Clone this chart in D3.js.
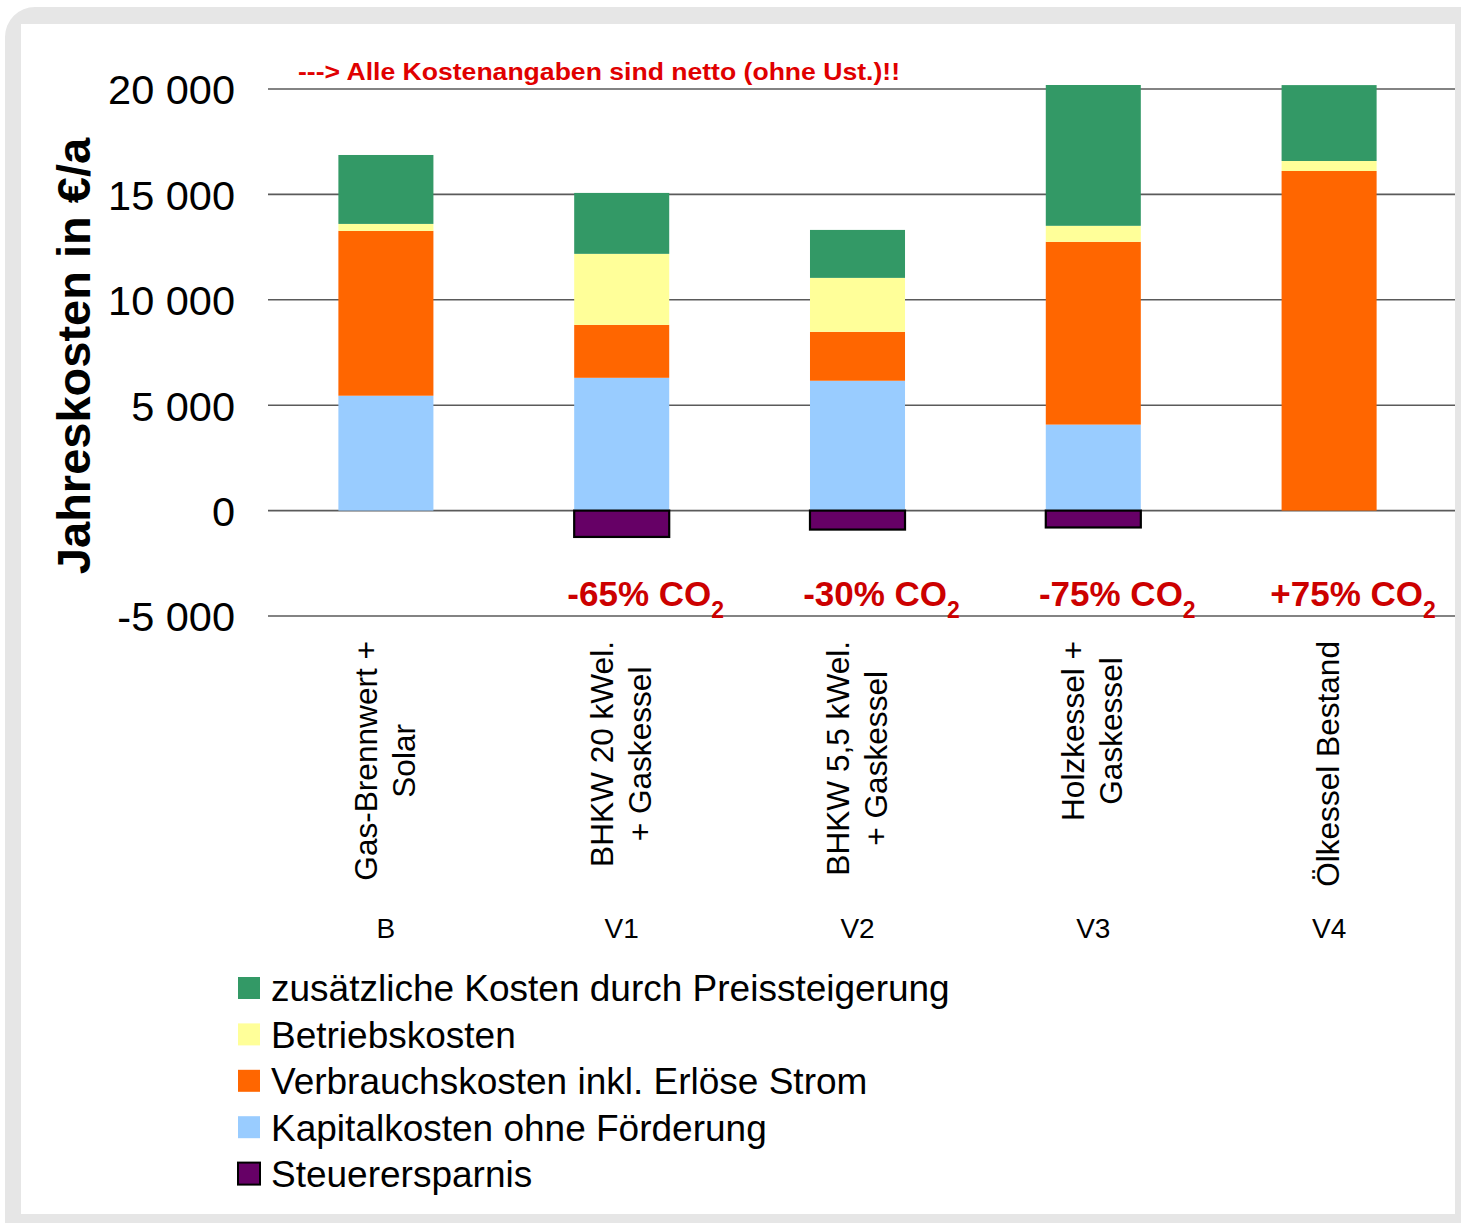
<!DOCTYPE html>
<html>
<head>
<meta charset="utf-8">
<script src="https://cdn.jsdelivr.net/npm/d3@7"></script>
<style>
  html, body { margin: 0; padding: 0; background: #ffffff; }
  svg { display: block; font-family: "Liberation Sans", Arial, sans-serif; }
</style>
</head>
<body>
<svg id="chart" width="1461" height="1223"></svg>
<script>
// Variants and their descriptions
const categories = ["B", "V1", "V2", "V3", "V4"];
const descriptions = [
  ["Gas-Brennwert +", "Solar"],
  ["BHKW 20 kWel.", "+ Gaskessel"],
  ["BHKW 5,5 kWel.", "+ Gaskessel"],
  ["Holzkessel +", "Gaskessel"],
  ["Ölkessel Bestand"]
];

// Annual cost components in €/a
const kapitalkosten   = [5450, 6300, 6160, 4080, 0];
const verbrauchskosten = [7820, 2510, 2320, 8670, 16110];
const betriebskosten  = [330, 3370, 2560, 760, 475];
const preissteigerung = [3270, 2890, 2275, 6680, 3600];
const steuerersparnis = [0, -1250, -900, -800, 0];

// CO2 change relative to the base variant
const co2Changes = ["", "-65%", "-30%", "-75%", "+75%"];

// Y axis ticks
const yTicks = [-5000, 0, 5000, 10000, 15000, 20000];

const series = [
  { key: "kapital",   label: "Kapitalkosten ohne Förderung",          color: "#99CCFF", values: kapitalkosten },
  { key: "verbrauch", label: "Verbrauchskosten inkl. Erlöse Strom",   color: "#FF6600", values: verbrauchskosten },
  { key: "betrieb",   label: "Betriebskosten",                        color: "#FFFF99", values: betriebskosten },
  { key: "preis",     label: "zusätzliche Kosten durch Preissteigerung", color: "#339966", values: preissteigerung },
  { key: "steuer",    label: "Steuerersparnis",                       color: "#660066", values: steuerersparnis, outlined: true }
];
const legendOrder = ["preis", "betrieb", "verbrauch", "kapital", "steuer"];

const rows = categories.map((c, i) => {
  const r = { cat: c };
  series.forEach(s => { r[s.key] = s.values[i]; });
  return r;
});

const svg = d3.select("#chart");

// Frame: grey rounded border with white panel
svg.append("rect").attr("x", 5).attr("y", 7).attr("width", 1500).attr("height", 1260)
  .attr("rx", 30).attr("fill", "#e6e6e6");
svg.append("rect").attr("x", 21).attr("y", 24).attr("width", 1434).attr("height", 1190)
  .attr("fill", "#ffffff");

const x = d3.scaleBand().domain(categories).range([268, 1447])
  .paddingInner(0.597).paddingOuter(0.2985);
const y = d3.scaleLinear().domain([-5000, 20000]).range([616, 89]);

// Gridlines
const grid = svg.append("g");
grid.selectAll("line").data(yTicks).join("line")
  .attr("x1", 268).attr("x2", 1455)
  .attr("y1", d => y(d)).attr("y2", d => y(d))
  .attr("stroke", "#5a5a5a").attr("stroke-width", 1.6);

// Y axis labels
const yAxis = d3.axisLeft(y).tickValues(yTicks).tickSize(0).tickPadding(0)
  .tickFormat(d => d3.format(",")(d).replace(/,/g, " ").replace("−", "-"));
const yg = svg.append("g").attr("transform", "translate(235,0)").call(yAxis);
yg.select(".domain").remove();
yg.selectAll("text").attr("font-size", 41.5).attr("fill", "#000")
  .attr("font-family", "'Liberation Sans', Arial, sans-serif").attr("dy", "0.36em");

// Y title
svg.append("text")
  .attr("transform", "translate(90,356) rotate(-90)")
  .attr("text-anchor", "middle")
  .attr("font-size", 47).attr("font-weight", "bold").attr("fill", "#000")
  .text("Jahreskosten in €/a");

// Stacked bars
const stack = d3.stack().keys(series.map(s => s.key)).offset(d3.stackOffsetDiverging);
const stacked = stack(rows);
const bars = svg.append("g");
stacked.forEach((layer, li) => {
  const s = series[li];
  bars.append("g").selectAll("rect").data(layer.filter(d => d[1] !== d[0])).join("rect")
    .attr("x", d => x(d.data.cat))
    .attr("width", x.bandwidth())
    .attr("y", d => y(Math.max(d[0], d[1])))
    .attr("height", d => Math.abs(y(d[0]) - y(d[1])))
    .attr("fill", s.color)
    .attr("stroke", s.outlined ? "#000" : "none")
    .attr("stroke-width", s.outlined ? 2.2 : 0);
});

// Note
svg.append("text").attr("x", 298).attr("y", 80)
  .attr("font-size", 24).attr("font-weight", "bold").attr("fill", "#e00000")
  .attr("textLength", 602).attr("lengthAdjust", "spacingAndGlyphs")
  .text("---> Alle Kostenangaben sind netto (ohne Ust.)!!");

// CO2 labels
const co2 = svg.append("g");
categories.forEach((c, i) => {
  if (!co2Changes[i]) return;
  const t = co2.append("text")
    .attr("x", x(c) + x.bandwidth() / 2 + 24).attr("y", 606)
    .attr("text-anchor", "middle")
    .attr("font-size", 35).attr("font-weight", "bold").attr("fill", "#cc0000");
  t.append("tspan").text(co2Changes[i] + " CO");
  t.append("tspan").attr("dy", 12).attr("font-size", 23).text("2");
});

// Rotated category descriptions
const desc = svg.append("g");
categories.forEach((c, i) => {
  const lines = descriptions[i];
  const g = desc.append("g");
  const cx = x(c) + x.bandwidth() / 2;
  const lh = 38;
  const texts = lines.map((ln, j) => g.append("text")
    .attr("font-size", 31.6).attr("fill", "#000").attr("text-anchor", "middle")
    .text(ln));
  const maxW = d3.max(texts, t => t.node().getComputedTextLength());
  const midY = 641 + maxW / 2;
  texts.forEach((t, j) => {
    const lx = cx + (j - (lines.length - 1) / 2) * lh + 10;
    t.attr("transform", `translate(${lx},${midY}) rotate(-90)`);
  });
});

// Category codes
svg.append("g").selectAll("text").data(categories).join("text")
  .attr("x", d => x(d) + x.bandwidth() / 2).attr("y", 938)
  .attr("text-anchor", "middle").attr("font-size", 28).attr("fill", "#000")
  .text(d => d);

// Legend
const legend = svg.append("g");
legendOrder.forEach((k, i) => {
  const s = series.find(d => d.key === k);
  const cy = 988 + i * 46.4;
  legend.append("rect").attr("x", 238).attr("y", cy - 11).attr("width", 22).attr("height", 22)
    .attr("fill", s.color)
    .attr("stroke", s.outlined ? "#000" : "none").attr("stroke-width", s.outlined ? 2 : 0);
  legend.append("text").attr("x", 271).attr("y", cy).attr("dy", "0.36em")
    .attr("font-size", 37).attr("fill", "#000").text(s.label);
});
</script>
</body>
</html>
